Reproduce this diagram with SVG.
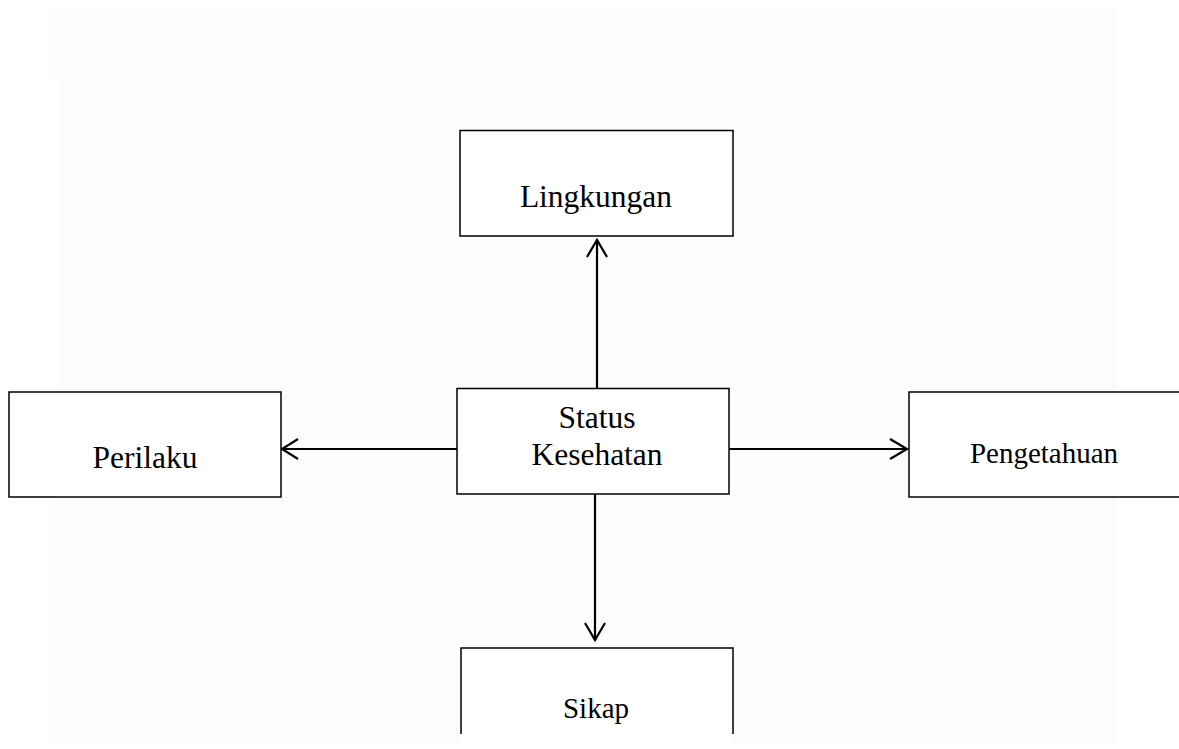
<svg xmlns="http://www.w3.org/2000/svg" width="1179" height="749" viewBox="0 0 1179 749">
  <defs>
    <style>
      .box { fill: #ffffff; stroke: #000000; stroke-width: 1.5; }
      .lbl { font-family: "Liberation Serif", "Times New Roman", serif; fill: #000000; text-anchor: middle; }
      .big { font-size: 31.5px; }
      .small { font-size: 29px; }
      .conn { stroke: #000000; stroke-width: 2.2; fill: none; }
      .head { stroke: #000000; stroke-width: 2.2; fill: none; stroke-linecap: butt; stroke-linejoin: miter; }
    </style>
  </defs>
  <rect x="0" y="0" width="1179" height="749" fill="#ffffff"/>
  <path d="M49,7 H1116 V745 H49 V510 H58 V80 H49 Z" fill="#fcfcfc"/>

  <g id="connectors">
    <line class="conn" x1="597" y1="388" x2="597" y2="240"/>
    <polyline class="head" points="587,257 597,240 607,257"/>
    <line class="conn" x1="595" y1="494" x2="595" y2="640"/>
    <polyline class="head" points="585,623 595,640 605,623"/>
    <line class="conn" x1="457" y1="449" x2="282" y2="449"/>
    <polyline class="head" points="298,439 282,449 298,459"/>
    <line class="conn" x1="729" y1="449" x2="907" y2="449"/>
    <polyline class="head" points="890,439 907,449 890,459"/>
  </g>

  <g id="node-lingkungan">
    <rect class="box" x="460" y="130.5" width="273" height="105.5"/>
    <text class="lbl big" x="596" y="207">Lingkungan</text>
  </g>

  <g id="node-status">
    <rect class="box" x="457" y="388.5" width="272" height="105.5"/>
    <text class="lbl big" x="597" y="428">Status</text>
    <text class="lbl big" x="597" y="465">Kesehatan</text>
  </g>

  <g id="node-perilaku">
    <rect class="box" x="9" y="392" width="272" height="105"/>
    <text class="lbl big" x="145" y="468">Perilaku</text>
  </g>

  <g id="node-pengetahuan">
    <rect class="box" x="909" y="392" width="290" height="105"/>
    <text class="lbl small" x="1044" y="463">Pengetahuan</text>
  </g>

  <g id="node-sikap">
    <rect x="461" y="648" width="272" height="101" fill="#ffffff"/>
    <path d="M461,734 V648 H733 V734" fill="none" stroke="#000000" stroke-width="1.5"/>
    <text class="lbl small" x="596" y="718">Sikap</text>
  </g>
</svg>
